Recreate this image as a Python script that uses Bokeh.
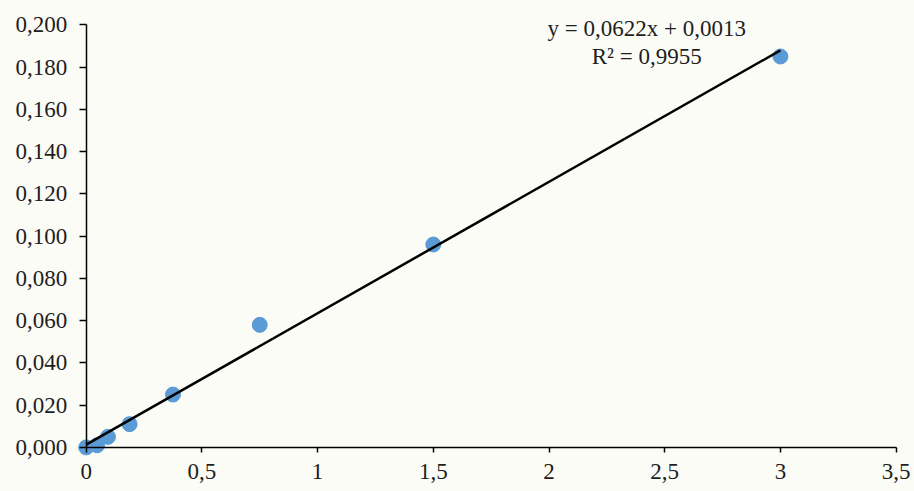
from bokeh.plotting import figure
from bokeh.models import Range1d, FixedTicker, Label
from bokeh.embed import file_html
from bokeh.resources import INLINE

# ---- data ----
conc = [0.0, 0.047, 0.094, 0.1875, 0.375, 0.75, 1.5, 3.0]
absorbance = [0.000, 0.001, 0.005, 0.011, 0.025, 0.058, 0.096, 0.185]
slope = 0.0622
intercept = 0.0013
eq_text = "y = 0,0622x + 0,0013"
r2_text = "R² = 0,9955"
trend_x = [0.0, 3.0]
trend_y = [slope * v + intercept for v in trend_x]

x_ticks = [0, 0.5, 1, 1.5, 2, 2.5, 3, 3.5]
x_tick_labels = ["0", "0,5", "1", "1,5", "2", "2,5", "3", "3,5"]
y_ticks = [0, 0.02, 0.04, 0.06, 0.08, 0.10, 0.12, 0.14, 0.16, 0.18, 0.20]
y_tick_labels = ["0,000", "0,020", "0,040", "0,060", "0,080", "0,100",
                 "0,120", "0,140", "0,160", "0,180", "0,200"]

FONT = "Liberation Serif"
FS = "23px"
TXT = "#1e1e1e"
BG = "#fcfcf7"

p = figure(width=914, height=491, output_backend="svg", toolbar_location=None,
           title=None,
           x_range=Range1d(-0.37035, 3.5795), y_range=Range1d(-0.02087, 0.2115),
           min_border_left=0, min_border_right=0, min_border_top=0,
           min_border_bottom=0)
p.background_fill_color = BG
p.border_fill_color = BG
p.outline_line_color = None
p.grid.visible = False

for ax in (p.xaxis[0], p.yaxis[0]):
    ax.fixed_location = 0
    ax.axis_line_color = "black"
    ax.axis_line_width = 1.5
    ax.major_tick_line_color = "black"
    ax.major_tick_line_width = 1.5
    ax.major_tick_in = 0
    ax.minor_tick_line_color = None
    ax.major_label_text_font = FONT
    ax.major_label_text_font_size = FS
    ax.major_label_text_color = TXT

p.xaxis.bounds = (0, 3.5)
p.yaxis.bounds = (0, 0.2)
p.xaxis.ticker = FixedTicker(ticks=x_ticks)
p.yaxis.ticker = FixedTicker(ticks=y_ticks)
p.xaxis.major_label_overrides = {t: l for t, l in zip(x_ticks, x_tick_labels)}
p.yaxis.major_label_overrides = {t: l for t, l in zip(y_ticks, y_tick_labels)}
p.xaxis.major_tick_out = 5
p.yaxis.major_tick_out = 7
p.xaxis.major_label_standoff = 12
p.yaxis.major_label_standoff = 12

p.scatter(conc, absorbance, size=15, color="#5b9bd5", line_color="#5b9bd5")
p.line(trend_x, trend_y, line_color="black", line_width=2.5)

p.add_layout(Label(x=2.4222, y=0.1983, text=eq_text, text_align="center",
                   text_baseline="alphabetic", text_font=FONT,
                   text_font_size=FS, text_color=TXT))
p.add_layout(Label(x=2.4222, y=0.1850, text=r2_text, text_align="center",
                   text_baseline="alphabetic", text_font=FONT,
                   text_font_size=FS, text_color=TXT))

open("out.html", "w").write(file_html(p, INLINE))
